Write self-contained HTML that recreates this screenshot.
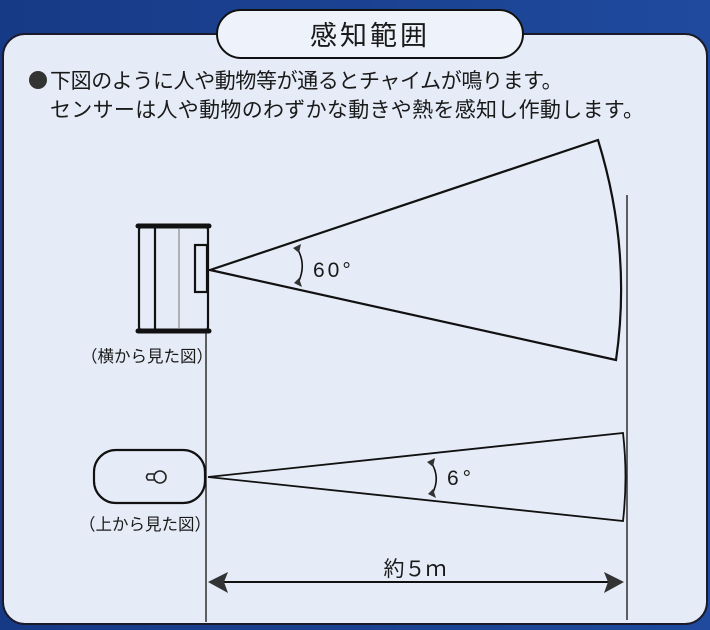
<!DOCTYPE html>
<html><head><meta charset="utf-8"><style>
html,body{margin:0;padding:0;width:710px;height:630px;overflow:hidden;background:#1b3f8c;}
svg{display:block}
text{font-family:"Liberation Sans","Noto Sans CJK JP",sans-serif;fill:#1a1a1a}
</style></head><body>
<svg width="710" height="630" viewBox="0 0 710 630" xmlns="http://www.w3.org/2000/svg">
<defs><linearGradient id="bg" x1="0" y1="0" x2="1" y2="0"><stop offset="0" stop-color="#173a86"/><stop offset="1" stop-color="#1f4a9e"/></linearGradient></defs>
<rect width="710" height="630" fill="url(#bg)"/>
<rect x="3" y="34" width="704" height="590" rx="22" fill="#e6ecf7" stroke="#1a1a2a" stroke-width="2"/>
<rect x="217" y="10" width="306" height="48" rx="24" fill="#eef2fa" stroke="#111" stroke-width="2"/>
<text x="370" y="45" font-size="27" text-anchor="middle" letter-spacing="3">感知範囲</text>
<circle cx="38" cy="80" r="9" fill="#333"/>
<text x="50" y="88" font-size="21" letter-spacing="-0.4">下図のように人や動物等が通るとチャイムが鳴ります。</text>
<text x="50" y="117" font-size="21" letter-spacing="0.3">センサーは人や動物のわずかな動きや熱を感知し作動します。</text>
<g fill="none" stroke="#111" stroke-width="2.2">
<rect x="139" y="226" width="69" height="105" rx="4"/>
<line x1="138" y1="226" x2="209" y2="226" stroke-width="5" stroke-linecap="round"/>
<line x1="138" y1="331" x2="209" y2="331" stroke-width="5" stroke-linecap="round"/>
<line x1="155" y1="228" x2="155" y2="329"/>
<line x1="179" y1="228" x2="179" y2="329" stroke="#777" stroke-width="1"/>
<rect x="195" y="245" width="12" height="47"/>
<path d="M210 270 L598 140 Q632 250 616 360 Z"/>
<rect x="94" y="450" width="111" height="53" rx="22"/>
<path d="M208 477 L623 433 Q628 477 623 521 Z" stroke-width="1.8"/>
<line x1="206" y1="333" x2="206" y2="622" stroke-width="1.3"/>
<line x1="627" y1="195" x2="627" y2="620" stroke-width="1.3"/>
<line x1="215" y1="582" x2="617" y2="582" stroke-width="2"/>
<path d="M297 248 Q307 265 298 283" stroke-width="1.6"/>
<path d="M431 462 Q441 478 432 494" stroke-width="1.6"/>
</g>
<g fill="#333">
<polygon points="208,582 228,572 224,582 228,593"/>
<polygon points="624,582 604,572 608,582 604,593"/>
<polygon points="293,248 301,244 299,253"/>
<polygon points="294,283 302,287 299,278"/>
<polygon points="427,462 435,458 433,467"/>
<polygon points="428,494 436,498 433,489"/>
</g>
<g fill="none" stroke="#222" stroke-width="1.6">
<circle cx="160" cy="477" r="6"/>
<path d="M154 474 L148 474 Q145 477 148 480 L154 480"/>
</g>
<text x="313" y="277" font-size="21" letter-spacing="3">60°</text>
<text x="447" y="485" font-size="21" letter-spacing="4">6°</text>
<text x="415" y="576" font-size="21" text-anchor="middle">約５ｍ</text>
<text x="81" y="362" font-size="16.5">（横から見た図）</text>
<text x="79" y="530" font-size="16.5">（上から見た図）</text>
</svg>
</body></html>
